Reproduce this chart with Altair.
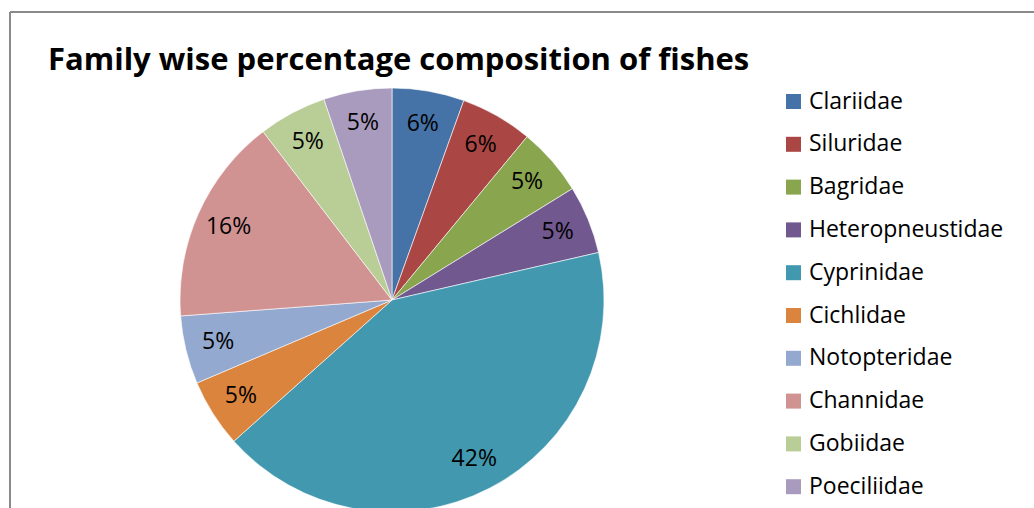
import altair as alt
import pandas as pd

families = ["Clariidae", "Siluridae", "Bagridae", "Heteropneustidae", "Cyprinidae",
            "Cichlidae", "Notopteridae", "Channidae", "Gobiidae", "Poeciliidae"]
percent = [5.5, 5.5, 5.2, 5.2, 42.0, 5.2, 5.2, 15.8, 5.2, 5.2]
colors = ["#4572A7", "#AA4643", "#89A54E", "#71588F", "#4198AF",
          "#DB843D", "#93A9CF", "#D19392", "#B9CD96", "#A99BBD"]
title_text = "Family wise percentage composition of fishes"

df = pd.DataFrame({"family": families, "percent": percent, "order": list(range(len(families)))})
df["label"] = [f"{int(p + 0.5)}%" for p in percent]

FONT = "Open Sans"
CX, CY, R = 382, 288, 212

color = alt.Color("family:N", sort=families,
                  scale=alt.Scale(domain=families, range=colors),
                  legend=alt.Legend(title=None, orient="none", legendX=772, legendY=78,
                                    symbolType="square", symbolSize=225, symbolStrokeWidth=0,
                                    labelFontSize=23, labelFont=FONT, labelColor="#000000",
                                    labelOffset=4, rowPadding=18.8, padding=0,
                                    labelLimit=300))

pie = alt.Chart(df).mark_arc(radius=R, stroke="white", strokeWidth=0.6).encode(
    theta=alt.Theta("percent:Q", stack=True),
    order=alt.Order("order:Q"),
    color=color,
    x=alt.value(CX), y=alt.value(CY),
)

labels = alt.Chart(df).mark_text(radius=179, font=FONT, fontSize=23, color="#000000").encode(
    theta=alt.Theta("percent:Q", stack=True),
    order=alt.Order("order:Q"),
    text="label:N",
    x=alt.value(CX), y=alt.value(CY),
)

title = alt.Chart(pd.DataFrame({"t": [title_text]})).mark_text(
    font=FONT, fontSize=31, fontWeight="bold", align="left", baseline="alphabetic", color="#000000"
).encode(text="t:N", x=alt.value(38), y=alt.value(58))

frame_top = alt.Chart(pd.DataFrame({"a": [0]})).mark_rule(color="#8a8a8a", strokeWidth=2).encode(
    x=alt.value(0), x2=alt.value(1024), y=alt.value(0))
frame_left = alt.Chart(pd.DataFrame({"a": [0]})).mark_rule(color="#8a8a8a", strokeWidth=2).encode(
    x=alt.value(0), y=alt.value(0), y2=alt.value(496))

chart = alt.layer(frame_top, frame_left, pie, labels, title).properties(
    width=1024, height=496,
    autosize=alt.AutoSizeParams(type="none"),
    padding={"left": 10, "top": 12, "right": 0, "bottom": 0},
).configure_view(stroke=None).configure(background="white")

chart.save("out.html", embed_options={"renderer": "svg", "actions": False})
